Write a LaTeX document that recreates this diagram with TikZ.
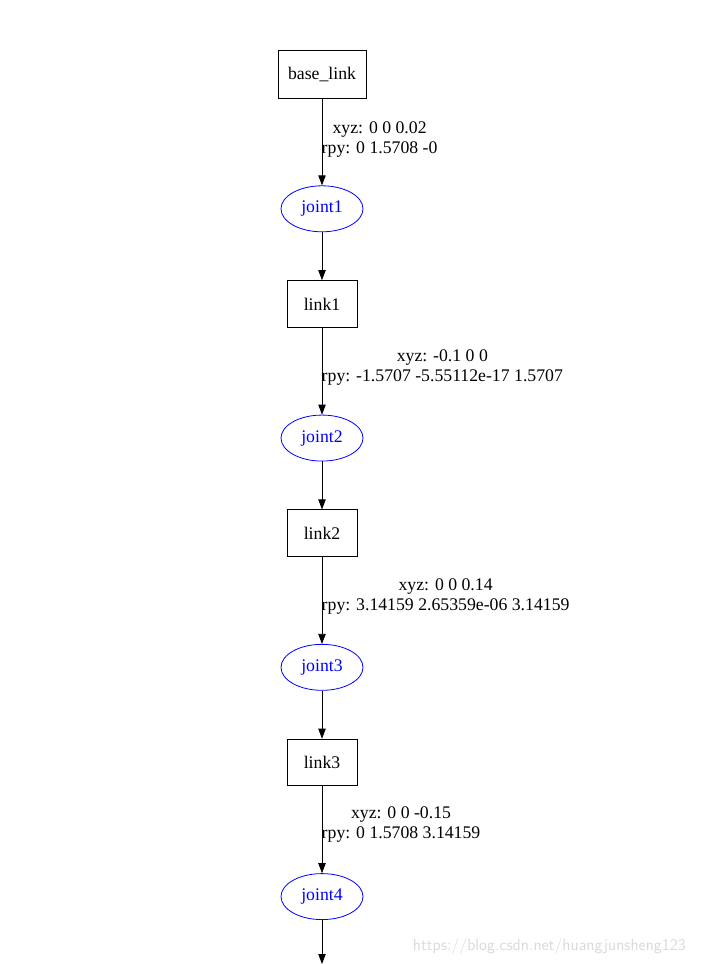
\documentclass[tikz,border=0pt]{standalone}
\usepackage{fontspec}
\setmainfont{Liberation Serif}
\usetikzlibrary{arrows.meta,positioning,shapes.geometric}
\tikzset{
	%Define standard arrow tip
	>={Triangle[length=7.5pt,width=5.5pt]},
	%Define style for links
	linkbox/.style={
	       rectangle,
	       draw=black,
	       minimum width=52.5pt,
	       minimum height=35pt,
	       text centered},
	%Define style for joints
	jointell/.style={
	       ellipse,
	       draw=blue,
	       text=blue,
	       minimum width=61.5pt,
	       minimum height=34.5pt,
	       inner sep=0pt},
	% Define arrow style
	pil/.style={
	       ->,
	       semithick},
	tf/.style={
	       anchor=west,
	       align=center,
	       inner sep=0pt,
	       font=\fontsize{13.3}{15}\selectfont}
}
\begin{document}
\begin{tikzpicture}[node distance=65.25pt, font=\fontsize{13.3}{15}\selectfont, semithick]
	\useasboundingbox (0,0) rectangle (525pt,-723pt);
	\node[linkbox, minimum width=66pt, minimum height=36pt] (base_link) at (241.5pt,-55.5pt) {base\_link};
	\node[jointell, below=of base_link] (joint1) {joint1};
	\node[linkbox, below=36pt of joint1] (link1) {link1};
	\node[jointell, below=of link1] (joint2) {joint2};
	\node[linkbox, below=36pt of joint2] (link2) {link2};
	\node[jointell, below=of link2] (joint3) {joint3};
	\node[linkbox, below=36pt of joint3] (link3) {link3};
	\node[jointell, below=65.25pt of link3] (joint4) {joint4};
	\coordinate (end) at (241.5pt,-723pt);
	% edges
	\draw[pil] (base_link) -- (joint1);
	\draw[pil] (joint1) -- (link1);
	\draw[pil] (link1) -- (joint2);
	\draw[pil] (joint2) -- (link2);
	\draw[pil] (link2) -- (joint3);
	\draw[pil] (joint3) -- (link3);
	\draw[pil] (link3) -- (joint4);
	\draw[pil] (joint4) -- (end);
	% transforms
	\node[tf] (tf1) at (241pt,-105pt) {xyz: 0 0 0.02\\rpy: 0 1.5708 -0};
	\node[tf] (tf2) at (241pt,-276pt) {xyz: -0.1 0 0\\rpy: -1.5707 -5.55112e-17 1.5707};
	\node[tf] (tf3) at (241pt,-447.5pt) {xyz: 0 0 0.14\\rpy: 3.14159 2.65359e-06 3.14159};
	\node[tf] (tf4) at (241pt,-618.5pt) {xyz: 0 0 -0.15\\rpy: 0 1.5708 3.14159};
	\node[anchor=east, text=black!15, font=\sffamily\fontsize{12.2}{14}\selectfont] (wm) at (518pt,-709.5pt) {https://blog.csdn.net/huangjunsheng123};
\end{tikzpicture}
\end{document}
